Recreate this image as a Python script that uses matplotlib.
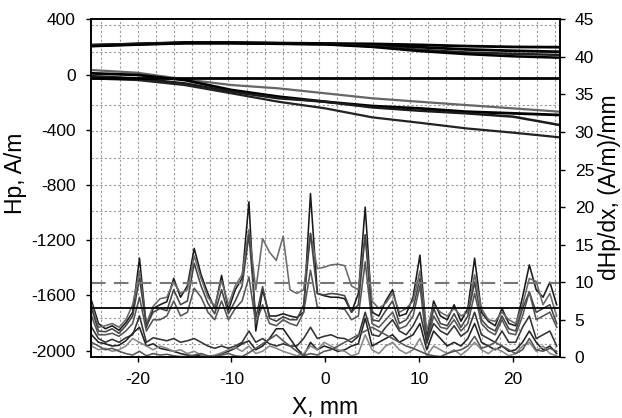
import numpy as np
import matplotlib
matplotlib.use('Agg')
import matplotlib.pyplot as plt

plt.rcParams['font.family'] = ['Liberation Sans', 'DejaVu Sans']
plt.rcParams['axes.unicode_minus'] = False

# Hp profiles (left axis), sampled every 5 mm
x_hp = [-25, -20, -15, -10, -5, 0, 5, 10, 15, 20, 25]
hp_up1 = [212, 222, 232, 232, 228, 225, 222, 215, 206, 200, 198]
hp_up2 = [208, 220, 230, 230, 226, 222, 214, 198, 182, 172, 165]
hp_up3 = [214, 222, 228, 228, 224, 220, 205, 180, 160, 150, 142]
hp_up4 = [205, 216, 226, 226, 222, 218, 200, 170, 148, 132, 122]
hp_lo1 = [33, 13, -35, -76, -100, -136, -172, -197, -221, -245, -269]
hp_lo2 = [9, -3, -40, -112, -160, -197, -228, -245, -269, -281, -293]
hp_lo3 = [-11, -28, -64, -124, -172, -197, -238, -262, -281, -305, -366]
hp_lo4 = [-28, -40, -76, -136, -197, -245, -310, -349, -390, -421, -455]
hp_flat_x = [-25, 25]
hp_flat = [-23, -23]

# gradient curves dHp/dx (right axis)
x_grad = np.linspace(-24.9, 24.65, 69)
g1 = [7.5, 4.5, 3.8, 4.2, 3.6, 4.6, 6.0, 13.2, 4.0, 6.5, 7.0, 7.4, 10.5, 8.0, 9.5, 14.5, 11.0,
      8.5, 6.5, 10.9, 6.3, 9.0, 10.5, 20.7, 3.5, 9.0, 5.5, 5.5, 5.8, 5.5, 5.3, 6.0, 21.8, 8.5,
      8.2, 8.0, 8.0, 7.8, 6.0, 8.5, 20.0, 6.0, 5.5, 7.5, 9.0, 5.5, 5.8, 8.0, 13.6, 2.5, 7.5,
      5.5, 5.0, 7.0, 4.8, 6.5, 13.2, 6.0, 4.8, 4.2, 6.5, 4.5, 4.2, 8.0, 12.3, 9.0, 8.0, 10.0, 7.0]
g2 = [7.0, 4.0, 4.2, 4.5, 4.0, 5.0, 7.0, 11.5, 4.5, 6.8, 7.8, 8.0, 10.0, 8.5, 9.0, 13.5, 10.5,
      8.0, 6.8, 10.2, 7.0, 9.5, 11.0, 17.0, 9.0, 15.8, 14.0, 12.9, 16.1, 9.0, 8.5, 9.0, 16.5, 11.8,
      12.0, 12.3, 12.4, 12.2, 9.5, 9.0, 16.3, 7.5, 6.5, 7.2, 8.5, 6.0, 6.5, 7.5, 11.5, 3.5, 7.0,
      6.0, 5.5, 6.5, 5.5, 6.0, 11.0, 6.5, 5.0, 4.8, 6.0, 5.0, 4.5, 7.0, 10.5, 10.1, 7.0, 8.5, 5.5]
g3 = [6.5, 3.5, 3.4, 3.8, 3.2, 4.2, 5.5, 10.5, 4.2, 6.0, 6.5, 6.2, 9.0, 7.0, 7.5, 12.5, 9.5,
      7.2, 5.8, 9.0, 5.8, 7.5, 9.5, 16.3, 5.2, 9.4, 5.2, 4.8, 5.4, 5.0, 5.0, 7.0, 16.5, 8.5,
      8.3, 8.5, 8.4, 8.2, 6.0, 7.0, 16.3, 5.0, 4.8, 6.2, 7.5, 4.5, 5.0, 6.5, 10.5, 2.0, 6.5,
      4.5, 4.2, 5.8, 4.0, 5.5, 10.0, 5.0, 4.0, 3.5, 5.5, 3.8, 3.5, 6.5, 8.7, 6.0, 6.5, 7.0, 4.5]
g4 = [5.5, 3.0, 3.0, 3.2, 2.8, 3.5, 4.5, 8.0, 3.5, 5.0, 5.0, 5.5, 7.5, 5.5, 6.0, 9.2, 8.0,
      6.0, 5.0, 7.5, 5.0, 6.5, 7.5, 10.7, 4.5, 7.0, 4.5, 4.2, 5.0, 4.5, 4.2, 6.0, 11.6, 6.7,
      6.5, 6.6, 6.5, 6.4, 5.0, 5.5, 12.7, 4.5, 4.0, 5.0, 6.0, 3.8, 4.2, 5.5, 9.5, 1.8, 5.5,
      4.0, 3.8, 5.0, 3.5, 4.5, 8.5, 4.5, 3.5, 3.0, 5.0, 3.2, 3.0, 5.5, 8.7, 5.0, 5.5, 6.0, 4.0]
g5 = [4.0, 2.5, 2.0, 2.4, 2.0, 2.6, 3.0, 5.5, 2.0, 2.6, 2.4, 2.2, 2.5, 2.0, 2.2, 2.5, 2.0,
      1.5, 1.2, 1.5, 1.2, 1.5, 2.0, 3.5, 2.0, 2.5, 1.8, 1.5, 1.8, 1.5, 1.5, 2.5, 4.0, 2.5,
      2.8, 3.0, 2.6, 2.5, 2.0, 2.8, 6.0, 3.0, 2.8, 4.0, 5.0, 3.5, 3.0, 4.2, 6.0, 2.0, 4.5,
      3.5, 3.0, 4.2, 2.8, 3.5, 6.0, 3.0, 2.5, 2.0, 3.5, 2.0, 2.0, 4.0, 5.5, 2.5, 3.0, 3.5, 1.5]
g6 = [3.0, 2.0, 1.8, 1.5, 1.6, 2.2, 3.2, 4.0, 1.5, 1.8, 1.2, 1.0, 0.8, 0.5, 0.3, 0.2, 0.2,
      0.1, 0.2, 0.5, 0.8, 1.2, 1.8, 2.2, 1.0, 1.5, 2.5, 3.8, 3.8, 2.5, 1.2, 0.2, 2.0, 1.0,
      1.5, 1.2, 0.8, 1.0, 1.5, 1.8, 5.2, 1.5, 2.0, 2.5, 3.0, 2.0, 2.5, 3.0, 4.5, 1.0, 3.5,
      2.5, 1.5, 2.0, 1.5, 2.5, 4.5, 2.0, 1.5, 1.0, 1.5, 0.8, 1.0, 2.0, 3.5, 2.0, 1.0, 1.5, 0.5]
g7 = [1.5, 1.0, 1.2, 0.8, 1.0, 1.5, 2.5, 2.0, 1.5, 1.0, 1.5, 1.2, 0.8, 1.0, 0.5, 0.8, 0.3,
      0.1, 0.3, 0.6, 1.0, 1.3, 0.8, 1.5, 0.5, 0.8, 1.5, 1.2, 0.8, 0.5, 0.2, 0.5, 1.5, 1.0,
      2.0, 1.5, 1.0, 0.8, 0.2, 0.5, 3.0, 1.0, 0.5, 1.5, 2.0, 1.0, 0.5, 1.0, 2.5, 0.2, 1.5,
      1.0, 0.5, 1.0, 0.3, 1.0, 2.0, 1.0, 0.5, 1.2, 0.8, 0.2, 0.5, 1.5, 2.0, 0.8, 1.5, 0.5, 0.2]
g8 = [2.0, 1.5, 1.0, 1.2, 0.8, 0.5, 0.3, 0.8, 0.2, 0.5, 0.3, 0.4, 0.2, 0.1, 0.1, 0.3, 0.5,
      0.2, 0.1, 0.3, 0.5, 0.2, 0.1, 0.6, 1.2, 1.8, 2.4, 3.0, 2.2, 1.5, 0.8, 0.2, 0.5, 0.3,
      0.8, 1.0, 1.5, 2.0, 2.5, 3.0, 3.5, 4.0, 3.5, 3.0, 2.5, 2.0, 1.5, 1.2, 0.8, 0.4, 0.2,
      0.1, 0.5, 0.8, 1.0, 1.5, 2.8, 1.2, 1.5, 2.0, 1.5, 1.0, 0.5, 1.0, 2.5, 1.0, 0.8, 1.2, 0.8]

# reference levels on the gradient axis
level_dashed = 9.85
level_solid = 6.6

fig = plt.figure(figsize=(6.22, 4.18), dpi=100)
ax = fig.add_axes([0.1458, 0.1452, 0.7545, 0.8086])
ax2 = ax.twinx()

# dotted grid
for gx in np.linspace(-23.85, 24.45, 26):
    ax.axvline(gx, color='#999999', lw=0.8, ls=(0, (2, 2)), zorder=0)
for gy in np.linspace(358.7, -1955, 13):
    ax.axhline(gy, color='#999999', lw=0.8, ls=(0, (2, 2)), zorder=0)

# Hp curves
for y, c, w in [(hp_up1, 'black', 2.0), (hp_up2, 'black', 2.0),
                (hp_up3, '#222222', 1.8), (hp_up4, 'black', 1.8)]:
    ax.plot(x_hp, y, color=c, lw=w)
ax.plot(x_hp, hp_lo1, color='#666666', lw=1.6)
ax.plot(x_hp, hp_lo2, color='black', lw=2.0)
ax.plot(x_hp, hp_lo3, color='#1a1a1a', lw=1.8)
ax.plot(x_hp, hp_lo4, color='#222222', lw=1.6)
ax.plot(hp_flat_x, hp_flat, color='black', lw=2.0)

ax.set_xlim(-25, 25)
ax.set_ylim(-2048, 400)
ax.set_xticks([-20, -10, 0, 10, 20])
ax.set_yticks([-2000, -1600, -1200, -800, -400, 0, 400])

# gradient curves
grads = [(g1, '#1a1a1a'), (g2, '#6a6a6a'), (g3, '#444444'), (g4, '#555555'),
         (g5, '#333333'), (g6, '#222222'), (g7, '#888888'), (g8, '#555555')]
for y, c in grads:
    ax2.plot(x_grad, y, color=c, lw=1.15)
ax2.axhline(level_dashed, color='#777777', lw=1.5, ls=(0, (7, 4)))
ax2.axhline(level_solid, color='black', lw=1.3)
ax2.set_ylim(0, 45)
ax2.set_yticks(range(0, 46, 5))

for a in (ax, ax2):
    a.tick_params(direction='out', length=3.6, width=1, labelsize=12.5, pad=7)
    for s in a.spines.values():
        s.set_linewidth(1.2)

ax.set_xlabel('X, mm', fontsize=16.5)
ax.set_ylabel('Hp, A/m', fontsize=16.5)
ax2.set_ylabel('dHp/dx, (A/m)/mm', fontsize=16.5)
ax.xaxis.set_label_coords(0.5, -0.115)
ax.yaxis.set_label_coords(-0.136, 0.545)
ax2.yaxis.set_label_coords(1.08, 0.502)

fig.savefig('out.png', dpi=100)
